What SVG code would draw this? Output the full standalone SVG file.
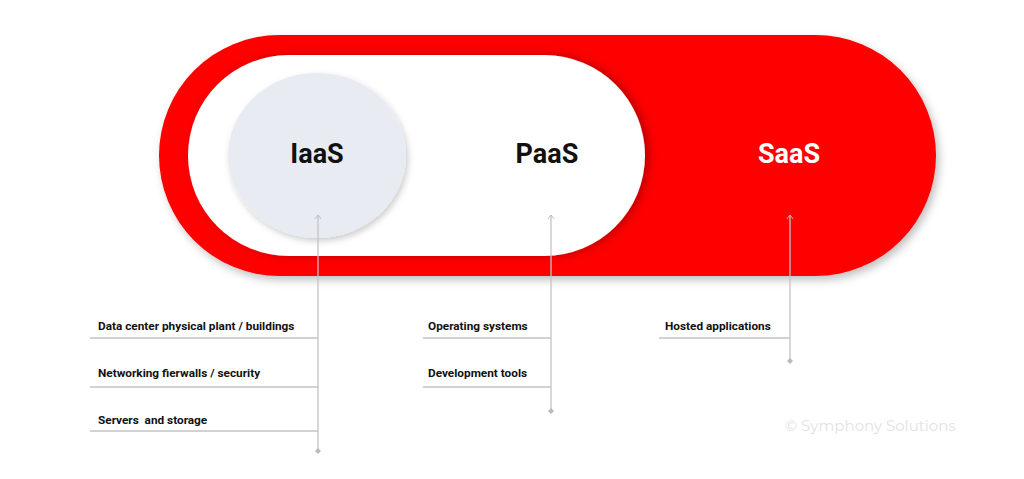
<svg xmlns="http://www.w3.org/2000/svg" width="1024" height="479" viewBox="0 0 1024 479">
<defs>
<filter id="sh" x="-10%" y="-20%" width="125%" height="150%"><feDropShadow dx="3" dy="4" stdDeviation="4" flood-color="#000" flood-opacity="0.25"/></filter>
<filter id="sh2" x="-10%" y="-20%" width="130%" height="150%"><feDropShadow dx="4" dy="0" stdDeviation="4" flood-color="#600" flood-opacity="0.45"/></filter>
<filter id="sh3" x="-20%" y="-20%" width="150%" height="150%"><feDropShadow dx="2" dy="3" stdDeviation="3" flood-color="#000" flood-opacity="0.2"/></filter>
<marker id="ah" viewBox="0 0 10 10" refX="8" refY="5" markerWidth="8" markerHeight="8" markerUnits="userSpaceOnUse" orient="auto"><path d="M3,1 L8,5 L3,9" fill="none" stroke="#bcb8bc" stroke-width="1.2"/></marker>
<marker id="dot" viewBox="0 0 10 10" refX="5" refY="5" markerWidth="6" markerHeight="6" markerUnits="userSpaceOnUse"><path d="M5,0 L10,5 L5,10 L0,5 Z" fill="#bcb8bc"/></marker>
</defs>
<style>
.t{font-family:Roboto,"Liberation Sans",sans-serif;font-weight:700;font-size:27px;text-anchor:middle}
.l{font-family:Roboto,"Liberation Sans",sans-serif;font-weight:700;font-size:11.8px;fill:#111}
.c{fill:none;stroke:#c6c2c6;stroke-width:1.3}
</style>
<rect width="1024" height="479" fill="#fff"/>
<g id="saas">
<rect x="159" y="35" width="777" height="241" rx="120.5" fill="#fe0000" filter="url(#sh)"/>
<text class="t" x="789" y="163" fill="#fff">SaaS</text>
</g>
<g id="paas">
<rect x="188" y="55" width="457" height="201" rx="100.5" fill="#fff" filter="url(#sh2)"/>
<text class="t" x="547" y="163" fill="#111">PaaS</text>
</g>
<g id="iaas">
<ellipse cx="317" cy="155.5" rx="89" ry="82.5" fill="#e8ebf2" filter="url(#sh3)"/>
<text class="t" x="317" y="163" fill="#111">IaaS</text>
</g>
<g id="connectors">
<path class="c" d="M318,451 V215" marker-start="url(#dot)" marker-end="url(#ah)"/>
<path class="c" d="M551,411 V215" marker-start="url(#dot)" marker-end="url(#ah)"/>
<path class="c" d="M790,361 V215" marker-start="url(#dot)" marker-end="url(#ah)"/>
<path class="c" d="M90,338 H318 M90,387 H318 M90,431 H318"/>
<path class="c" d="M423,338 H551 M423,387 H551"/>
<path class="c" d="M659,338 H790"/>
</g>
<g id="labels">
<text class="l" x="98" y="330">Data center physical plant / buildings</text>
<text class="l" x="98" y="377">Networking fierwalls / security</text>
<text class="l" x="98" y="424" xml:space="preserve">Servers  and storage</text>
<text class="l" x="428" y="330">Operating systems</text>
<text class="l" x="428" y="377">Development tools</text>
<text class="l" x="665" y="330">Hosted applications</text>
</g>
<text x="785" y="431" font-family="Montserrat,'Open Sans',Lato,sans-serif" font-size="15" fill="#e2e2e2">© Symphony Solutions</text>
</svg>
